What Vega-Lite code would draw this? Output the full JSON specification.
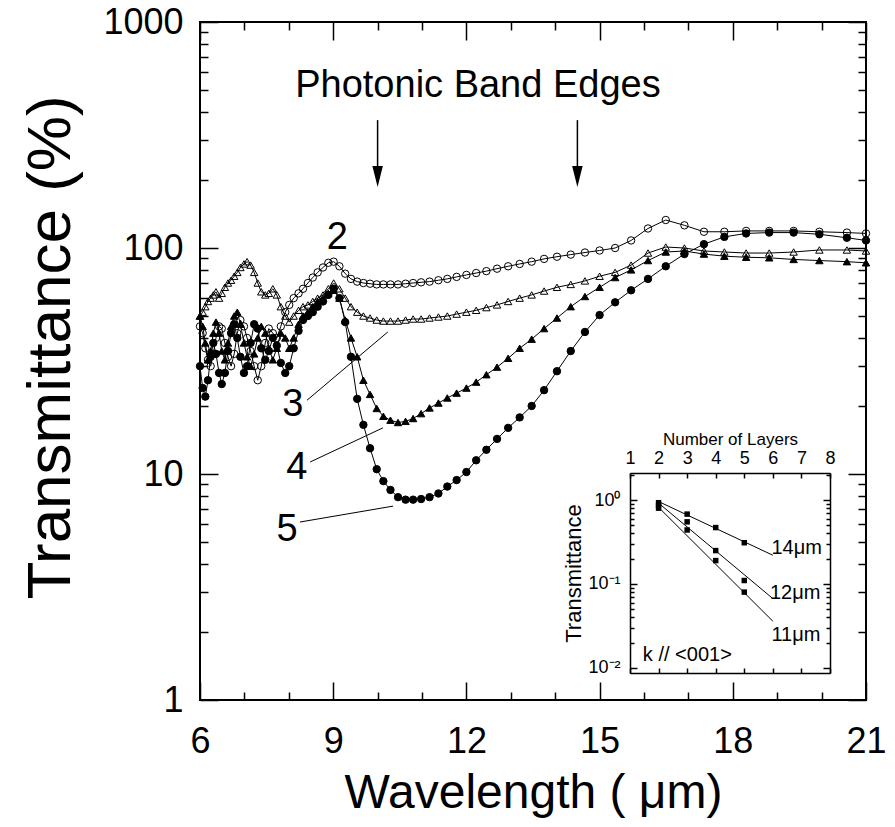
{
 "$schema": "https://vega.github.io/schema/vega-lite/v6.json",
 "width": 666, "height": 678,
 "autosize": {"type": "none"},
 "padding": {"left": 200, "top": 22, "right": 29, "bottom": 127},
 "background": "white",
 "config": {
  "view": {"stroke": "black", "strokeWidth": 2},
  "axis": {"domain": false, "grid": false, "tickColor": "black", "tickWidth": 1.5, "labelColor": "black", "titleColor": "black", "labelFont": "Liberation Sans", "titleFont": "Liberation Sans", "titleFontWeight": "normal", "labelFlush": false, "labelOverlap": false}
 },
 "datasets": {
  "main": [
{"l":6.00,"s":"2","v":45},{"l":6.06,"s":"2","v":42},{"l":6.12,"s":"2","v":36},{"l":6.18,"s":"2","v":32},{"l":6.24,"s":"2","v":30},{"l":6.30,"s":"2","v":34},{"l":6.36,"s":"2","v":40},{"l":6.43,"s":"2","v":45},{"l":6.49,"s":"2","v":44},{"l":6.56,"s":"2","v":38},{"l":6.63,"s":"2","v":33},{"l":6.70,"s":"2","v":30},{"l":6.77,"s":"2","v":34},{"l":6.84,"s":"2","v":42},{"l":6.91,"s":"2","v":48},{"l":6.99,"s":"2","v":45},{"l":7.06,"s":"2","v":40},{"l":7.14,"s":"2","v":35},{"l":7.22,"s":"2","v":30},{"l":7.30,"s":"2","v":26},{"l":7.38,"s":"2","v":30},{"l":7.47,"s":"2","v":38},{"l":7.55,"s":"2","v":44},{"l":7.64,"s":"2","v":42},{"l":7.73,"s":"2","v":40},{"l":7.82,"s":"2","v":45},{"l":7.92,"s":"2","v":52},{"l":8.01,"s":"2","v":56},{"l":8.11,"s":"2","v":60},{"l":8.22,"s":"2","v":63},{"l":8.32,"s":"2","v":66},{"l":8.43,"s":"2","v":70},{"l":8.54,"s":"2","v":74},{"l":8.65,"s":"2","v":78},{"l":8.77,"s":"2","v":82},{"l":8.89,"s":"2","v":86},{"l":9.01,"s":"2","v":87},{"l":9.14,"s":"2","v":83},{"l":9.27,"s":"2","v":77},{"l":9.40,"s":"2","v":73},{"l":9.54,"s":"2","v":71},{"l":9.68,"s":"2","v":70},{"l":9.83,"s":"2","v":69.5},{"l":9.98,"s":"2","v":69},{"l":10.13,"s":"2","v":69},{"l":10.29,"s":"2","v":69},{"l":10.46,"s":"2","v":69},{"l":10.63,"s":"2","v":69.5},{"l":10.80,"s":"2","v":70},{"l":10.98,"s":"2","v":70.5},{"l":11.17,"s":"2","v":71},{"l":11.37,"s":"2","v":72},{"l":11.57,"s":"2","v":73},{"l":11.78,"s":"2","v":74.5},{"l":12.00,"s":"2","v":76},{"l":12.22,"s":"2","v":77.5},{"l":12.45,"s":"2","v":79},{"l":12.69,"s":"2","v":81},{"l":12.94,"s":"2","v":83},{"l":13.20,"s":"2","v":85},{"l":13.47,"s":"2","v":87},{"l":13.75,"s":"2","v":89.5},{"l":14.04,"s":"2","v":91.5},{"l":14.35,"s":"2","v":93.5},{"l":14.67,"s":"2","v":95.5},{"l":15.00,"s":"2","v":97.5},{"l":15.35,"s":"2","v":100},{"l":15.71,"s":"2","v":108},{"l":16.09,"s":"2","v":122},{"l":16.49,"s":"2","v":133},{"l":16.91,"s":"2","v":126},{"l":17.35,"s":"2","v":118},{"l":17.81,"s":"2","v":118},{"l":18.30,"s":"2","v":119},{"l":18.82,"s":"2","v":119},{"l":19.37,"s":"2","v":119},{"l":19.95,"s":"2","v":118},{"l":20.57,"s":"2","v":117},{"l":21.00,"s":"2","v":116},
{"l":6.00,"s":"3","v":50},{"l":6.06,"s":"3","v":52},{"l":6.12,"s":"3","v":55},{"l":6.18,"s":"3","v":58},{"l":6.24,"s":"3","v":60},{"l":6.30,"s":"3","v":62},{"l":6.36,"s":"3","v":64},{"l":6.43,"s":"3","v":60},{"l":6.49,"s":"3","v":63},{"l":6.56,"s":"3","v":67},{"l":6.63,"s":"3","v":70},{"l":6.70,"s":"3","v":72},{"l":6.77,"s":"3","v":75},{"l":6.84,"s":"3","v":78},{"l":6.91,"s":"3","v":82},{"l":6.99,"s":"3","v":85},{"l":7.06,"s":"3","v":87},{"l":7.14,"s":"3","v":84},{"l":7.22,"s":"3","v":78},{"l":7.30,"s":"3","v":70},{"l":7.38,"s":"3","v":64},{"l":7.47,"s":"3","v":62},{"l":7.55,"s":"3","v":63},{"l":7.64,"s":"3","v":66},{"l":7.73,"s":"3","v":62},{"l":7.82,"s":"3","v":55},{"l":7.92,"s":"3","v":50},{"l":8.01,"s":"3","v":47},{"l":8.11,"s":"3","v":50},{"l":8.22,"s":"3","v":53},{"l":8.32,"s":"3","v":55},{"l":8.43,"s":"3","v":56},{"l":8.54,"s":"3","v":58},{"l":8.65,"s":"3","v":60},{"l":8.77,"s":"3","v":62},{"l":8.89,"s":"3","v":66},{"l":9.01,"s":"3","v":70},{"l":9.14,"s":"3","v":66},{"l":9.27,"s":"3","v":60},{"l":9.40,"s":"3","v":55},{"l":9.54,"s":"3","v":52},{"l":9.68,"s":"3","v":50},{"l":9.83,"s":"3","v":49},{"l":9.98,"s":"3","v":48},{"l":10.13,"s":"3","v":47.5},{"l":10.29,"s":"3","v":47.5},{"l":10.46,"s":"3","v":47.5},{"l":10.63,"s":"3","v":48},{"l":10.80,"s":"3","v":48.5},{"l":10.98,"s":"3","v":48.5},{"l":11.17,"s":"3","v":49},{"l":11.37,"s":"3","v":49.5},{"l":11.57,"s":"3","v":50},{"l":11.78,"s":"3","v":51},{"l":12.00,"s":"3","v":52},{"l":12.22,"s":"3","v":53},{"l":12.45,"s":"3","v":54.5},{"l":12.69,"s":"3","v":56},{"l":12.94,"s":"3","v":58},{"l":13.20,"s":"3","v":60},{"l":13.47,"s":"3","v":62},{"l":13.75,"s":"3","v":64.5},{"l":14.04,"s":"3","v":67},{"l":14.35,"s":"3","v":69},{"l":14.67,"s":"3","v":71.5},{"l":15.00,"s":"3","v":75},{"l":15.35,"s":"3","v":78},{"l":15.71,"s":"3","v":84},{"l":16.09,"s":"3","v":95},{"l":16.49,"s":"3","v":101},{"l":16.91,"s":"3","v":100},{"l":17.35,"s":"3","v":97},{"l":17.81,"s":"3","v":96},{"l":18.30,"s":"3","v":95},{"l":18.82,"s":"3","v":95},{"l":19.37,"s":"3","v":96},{"l":19.95,"s":"3","v":98},{"l":20.57,"s":"3","v":98},{"l":21.00,"s":"3","v":97},
{"l":6.00,"s":"4","v":50},{"l":6.06,"s":"4","v":45},{"l":6.12,"s":"4","v":38},{"l":6.18,"s":"4","v":32},{"l":6.24,"s":"4","v":35},{"l":6.30,"s":"4","v":42},{"l":6.36,"s":"4","v":47},{"l":6.43,"s":"4","v":42},{"l":6.49,"s":"4","v":35},{"l":6.56,"s":"4","v":32},{"l":6.63,"s":"4","v":38},{"l":6.70,"s":"4","v":45},{"l":6.77,"s":"4","v":50},{"l":6.84,"s":"4","v":52},{"l":6.91,"s":"4","v":46},{"l":6.99,"s":"4","v":38},{"l":7.06,"s":"4","v":33},{"l":7.14,"s":"4","v":30},{"l":7.22,"s":"4","v":34},{"l":7.30,"s":"4","v":40},{"l":7.38,"s":"4","v":45},{"l":7.47,"s":"4","v":42},{"l":7.55,"s":"4","v":36},{"l":7.64,"s":"4","v":32},{"l":7.73,"s":"4","v":36},{"l":7.82,"s":"4","v":42},{"l":7.92,"s":"4","v":40},{"l":8.01,"s":"4","v":36},{"l":8.11,"s":"4","v":40},{"l":8.22,"s":"4","v":46},{"l":8.32,"s":"4","v":50},{"l":8.43,"s":"4","v":52},{"l":8.54,"s":"4","v":55},{"l":8.65,"s":"4","v":58},{"l":8.77,"s":"4","v":60},{"l":8.89,"s":"4","v":63},{"l":9.01,"s":"4","v":65},{"l":9.14,"s":"4","v":60},{"l":9.27,"s":"4","v":48},{"l":9.40,"s":"4","v":40},{"l":9.54,"s":"4","v":33},{"l":9.68,"s":"4","v":26},{"l":9.83,"s":"4","v":22.5},{"l":9.98,"s":"4","v":19.5},{"l":10.13,"s":"4","v":18},{"l":10.29,"s":"4","v":17.3},{"l":10.46,"s":"4","v":16.9},{"l":10.63,"s":"4","v":17.1},{"l":10.80,"s":"4","v":17.6},{"l":10.98,"s":"4","v":18.5},{"l":11.17,"s":"4","v":19.6},{"l":11.37,"s":"4","v":20.6},{"l":11.57,"s":"4","v":21.7},{"l":11.78,"s":"4","v":22.8},{"l":12.00,"s":"4","v":24},{"l":12.22,"s":"4","v":25.5},{"l":12.45,"s":"4","v":27.5},{"l":12.69,"s":"4","v":29.7},{"l":12.94,"s":"4","v":32.5},{"l":13.20,"s":"4","v":36},{"l":13.47,"s":"4","v":39.5},{"l":13.75,"s":"4","v":44},{"l":14.04,"s":"4","v":49},{"l":14.35,"s":"4","v":55},{"l":14.67,"s":"4","v":61},{"l":15.00,"s":"4","v":67},{"l":15.35,"s":"4","v":74},{"l":15.71,"s":"4","v":80},{"l":16.09,"s":"4","v":88},{"l":16.49,"s":"4","v":96},{"l":16.91,"s":"4","v":97},{"l":17.35,"s":"4","v":94},{"l":17.81,"s":"4","v":92},{"l":18.30,"s":"4","v":91},{"l":18.82,"s":"4","v":90.5},{"l":19.37,"s":"4","v":89},{"l":19.95,"s":"4","v":88},{"l":20.57,"s":"4","v":87},{"l":21.00,"s":"4","v":86},
{"l":6.00,"s":"5","v":30},{"l":6.06,"s":"5","v":24},{"l":6.12,"s":"5","v":22},{"l":6.18,"s":"5","v":26},{"l":6.24,"s":"5","v":33},{"l":6.30,"s":"5","v":38},{"l":6.36,"s":"5","v":34},{"l":6.43,"s":"5","v":28},{"l":6.49,"s":"5","v":25},{"l":6.56,"s":"5","v":28},{"l":6.63,"s":"5","v":35},{"l":6.70,"s":"5","v":42},{"l":6.77,"s":"5","v":46},{"l":6.84,"s":"5","v":40},{"l":6.91,"s":"5","v":33},{"l":6.99,"s":"5","v":28},{"l":7.06,"s":"5","v":30},{"l":7.14,"s":"5","v":38},{"l":7.22,"s":"5","v":46},{"l":7.30,"s":"5","v":44},{"l":7.38,"s":"5","v":36},{"l":7.47,"s":"5","v":32},{"l":7.55,"s":"5","v":35},{"l":7.64,"s":"5","v":40},{"l":7.73,"s":"5","v":37},{"l":7.82,"s":"5","v":31},{"l":7.92,"s":"5","v":28},{"l":8.01,"s":"5","v":30},{"l":8.11,"s":"5","v":36},{"l":8.22,"s":"5","v":43},{"l":8.32,"s":"5","v":48},{"l":8.43,"s":"5","v":50},{"l":8.54,"s":"5","v":52},{"l":8.65,"s":"5","v":55},{"l":8.77,"s":"5","v":58},{"l":8.89,"s":"5","v":62},{"l":9.01,"s":"5","v":66},{"l":9.14,"s":"5","v":60},{"l":9.27,"s":"5","v":47},{"l":9.40,"s":"5","v":33},{"l":9.54,"s":"5","v":21.5},{"l":9.68,"s":"5","v":16.5},{"l":9.83,"s":"5","v":13},{"l":9.98,"s":"5","v":10.5},{"l":10.13,"s":"5","v":9.3},{"l":10.29,"s":"5","v":8.5},{"l":10.46,"s":"5","v":7.9},{"l":10.63,"s":"5","v":7.7},{"l":10.80,"s":"5","v":7.7},{"l":10.98,"s":"5","v":7.75},{"l":11.17,"s":"5","v":7.9},{"l":11.37,"s":"5","v":8.2},{"l":11.57,"s":"5","v":8.8},{"l":11.78,"s":"5","v":9.4},{"l":12.00,"s":"5","v":10.2},{"l":12.22,"s":"5","v":11.5},{"l":12.45,"s":"5","v":12.8},{"l":12.69,"s":"5","v":14.3},{"l":12.94,"s":"5","v":16},{"l":13.20,"s":"5","v":17.8},{"l":13.47,"s":"5","v":20},{"l":13.75,"s":"5","v":23.5},{"l":14.04,"s":"5","v":28.5},{"l":14.35,"s":"5","v":35},{"l":14.67,"s":"5","v":42.5},{"l":15.00,"s":"5","v":50.5},{"l":15.35,"s":"5","v":57.5},{"l":15.71,"s":"5","v":65},{"l":16.09,"s":"5","v":73},{"l":16.49,"s":"5","v":83},{"l":16.91,"s":"5","v":94},{"l":17.35,"s":"5","v":104},{"l":17.81,"s":"5","v":112},{"l":18.30,"s":"5","v":116},{"l":18.82,"s":"5","v":117},{"l":19.37,"s":"5","v":117},{"l":19.95,"s":"5","v":115},{"l":20.57,"s":"5","v":111},{"l":21.00,"s":"5","v":108}
  ],
  "labels": [
   {"l":9.09,"v":111,"t":"2"},{"l":8.09,"v":20.2,"t":"3"},{"l":8.18,"v":10.6,"t":"4"},{"l":7.96,"v":5.65,"t":"5"},{"l":12.26,"v":521,"t":"Photonic Band Edges"}
  ],
  "leaders": [
   {"l":8.41,"v":21.2,"l2":10.23,"v2":42.5},{"l":8.48,"v":11.3,"l2":10.12,"v2":16.0},{"l":8.25,"v":6.13,"l2":10.35,"v2":7.21}
  ],
  "arrows": [
   {"l":10.0,"v":368,"v2":200,"h":207},{"l":14.5,"v":368,"v2":200,"h":207}
  ],
  "ipts": [
   {"n":2,"w":"14","T":0.93},{"n":3,"w":"14","T":0.68},{"n":4,"w":"14","T":0.47},{"n":5,"w":"14","T":0.31},
   {"n":2,"w":"12","T":0.86},{"n":3,"w":"12","T":0.55},{"n":4,"w":"12","T":0.25},{"n":5,"w":"12","T":0.11},
   {"n":2,"w":"11","T":0.80},{"n":3,"w":"11","T":0.44},{"n":4,"w":"11","T":0.19},{"n":5,"w":"11","T":0.08}
  ],
  "ifit": [
   {"n":2,"w":"14","T":0.96},{"n":6,"w":"14","T":0.22},{"n":2,"w":"12","T":0.92},{"n":6,"w":"12","T":0.067},{"n":2,"w":"11","T":0.82},{"n":6,"w":"11","T":0.036}
  ],
  "itext": [
   {"n":5.95,"T":0.27,"t":"14μm"},{"n":5.9,"T":0.078,"t":"12μm"},{"n":5.95,"T":0.025,"t":"11μm"},{"n":1.45,"T":0.0143,"t":"k // <001>"}
  ]
 },
 "resolve": {"scale": {"x": "independent", "y": "independent"}},
 "layer": [
  {
   "resolve": {"axis": {"x": "independent", "y": "independent"}},
   "layer": [
    {
     "data": {"name": "main"},
     "mark": {"type": "line", "color": "black", "strokeWidth": 1},
     "encoding": {
      "x": {"field": "l", "type": "quantitative", "scale": {"domain": [6, 21], "nice": false, "zero": false},
       "axis": {"orient": "bottom", "values": [6,7,8,9,10,11,12,13,14,15,16,17,18,19,20,21],
        "tickSize": {"condition": {"test": "datum.value % 3 === 0", "value": -18}, "value": -8},
        "labelExpr": "datum.value % 3 === 0 ? format(datum.value, 'd') : ''",
        "labelFontSize": 36, "labelPadding": 42,
        "title": "Wavelength ( μm)", "titleFontSize": 48, "titlePadding": 0}},
      "y": {"field": "v", "type": "quantitative", "scale": {"type": "log", "domain": [1, 1000], "nice": false},
       "axis": {"orient": "left", "values": [1,2,3,4,5,6,7,8,9,10,20,30,40,50,60,70,80,90,100,200,300,400,500,600,700,800,900,1000],
        "tickSize": {"condition": {"test": "datum.value === 1 || datum.value === 10 || datum.value === 100 || datum.value === 1000", "value": -18}, "value": -8},
        "labelExpr": "(datum.value === 1 || datum.value === 10 || datum.value === 100 || datum.value === 1000) ? format(datum.value, 'd') : ''",
        "labelFontSize": 36, "labelPadding": 35,
        "title": "Transmittance (%)", "titleFontSize": 62, "titlePadding": 20, "titleY": 325}},
      "detail": {"field": "s"}
     }
    },
    {
     "data": {"name": "main"},
     "mark": {"type": "point", "stroke": "black", "strokeWidth": 1, "opacity": 1, "size": 55},
     "encoding": {
      "x": {"field": "l", "type": "quantitative", "scale": {"domain": [6, 21], "nice": false, "zero": false},
       "axis": {"orient": "top", "values": [6,7,8,9,10,11,12,13,14,15,16,17,18,19,20,21],
        "tickSize": {"condition": {"test": "datum.value % 3 === 0", "value": -18}, "value": -8},
        "labels": false, "title": null}},
      "y": {"field": "v", "type": "quantitative", "scale": {"type": "log", "domain": [1, 1000], "nice": false},
       "axis": {"orient": "right", "values": [1,2,3,4,5,6,7,8,9,10,20,30,40,50,60,70,80,90,100,200,300,400,500,600,700,800,900,1000],
        "tickSize": {"condition": {"test": "datum.value === 1 || datum.value === 10 || datum.value === 100 || datum.value === 1000", "value": -18}, "value": -8},
        "labels": false, "title": null}},
      "shape": {"field": "s", "type": "nominal", "scale": {"domain": ["2","3","4","5"], "range": ["circle","triangle-up","triangle-up","circle"]}, "legend": null},
      "fill": {"field": "s", "type": "nominal", "scale": {"domain": ["2","3","4","5"], "range": ["transparent","transparent","black","black"]}, "legend": null}
     }
    },
    {
     "data": {"name": "leaders"},
     "mark": {"type": "rule", "color": "black", "strokeWidth": 1},
     "encoding": {
      "x": {"field": "l", "type": "quantitative", "scale": {"domain": [6, 21], "nice": false, "zero": false}, "axis": null},
      "y": {"field": "v", "type": "quantitative", "scale": {"type": "log", "domain": [1, 1000], "nice": false}, "axis": null},
      "x2": {"field": "l2"}, "y2": {"field": "v2"}
     }
    },
    {
     "data": {"name": "arrows"},
     "mark": {"type": "rule", "color": "black", "strokeWidth": 1.5},
     "encoding": {
      "x": {"field": "l", "type": "quantitative", "scale": {"domain": [6, 21], "nice": false, "zero": false}, "axis": null},
      "y": {"field": "v", "type": "quantitative", "scale": {"type": "log", "domain": [1, 1000], "nice": false}, "axis": null},
      "y2": {"field": "v2"}
     }
    },
    {
     "data": {"name": "arrows"},
     "mark": {"type": "point", "shape": "M-0.5,-1L0.5,-1L0,1Z", "filled": true, "color": "black", "opacity": 1, "size": 441},
     "encoding": {
      "x": {"field": "l", "type": "quantitative", "scale": {"domain": [6, 21], "nice": false, "zero": false}, "axis": null},
      "y": {"field": "h", "type": "quantitative", "scale": {"type": "log", "domain": [1, 1000], "nice": false}, "axis": null}
     }
    },
    {
     "data": {"name": "labels"},
     "mark": {"type": "text", "font": "Liberation Sans", "fontSize": 38, "align": "center", "baseline": "middle", "color": "black"},
     "encoding": {
      "x": {"field": "l", "type": "quantitative", "scale": {"domain": [6, 21], "nice": false, "zero": false}, "axis": null},
      "y": {"field": "v", "type": "quantitative", "scale": {"type": "log", "domain": [1, 1000], "nice": false}, "axis": null},
      "text": {"field": "t"}
     }
    }
   ]
  },
  {
   "resolve": {"axis": {"x": "independent", "y": "independent"}},
   "layer": [
    {
     "data": {"name": "ifit"},
     "mark": {"type": "line", "color": "black", "strokeWidth": 1},
     "encoding": {
      "x": {"field": "n", "type": "quantitative", "scale": {"domain": [1, 8], "range": [430, 630], "nice": false, "zero": false},
       "axis": {"orient": "top", "offset": -451, "values": [1,2,3,4,5,6,7,8], "tickSize": -5,
        "labelFontSize": 18, "labelPadding": 11, "format": "d",
        "domain": true, "domainColor": "black", "domainWidth": 1.5,
        "title": "Number of Layers", "titleFontSize": 17, "titlePadding": 1}},
      "y": {"field": "T", "type": "quantitative", "scale": {"type": "log", "domain": [0.0087, 2.1], "range": [651, 451], "nice": false},
       "axis": {"orient": "left", "offset": -430, "values": [0.01,0.02,0.03,0.04,0.05,0.06,0.07,0.08,0.09,0.1,0.2,0.3,0.4,0.5,0.6,0.7,0.8,0.9,1,2],
        "tickSize": {"condition": {"test": "datum.value === 0.01 || datum.value === 0.1 || datum.value === 1", "value": -7}, "value": -4},
        "labelExpr": "datum.value === 1 ? '10⁰' : datum.value === 0.1 ? '10⁻¹' : datum.value === 0.01 ? '10⁻²' : ''",
        "labelFontSize": 18, "labelPadding": 17,
        "domain": true, "domainColor": "black", "domainWidth": 1.5,
        "title": "Transmittance", "titleFontSize": 22, "titlePadding": 2}},
      "detail": {"field": "w"}
     }
    },
    {
     "data": {"name": "ipts"},
     "mark": {"type": "point", "shape": "square", "filled": true, "color": "black", "opacity": 1, "size": 30},
     "encoding": {
      "x": {"field": "n", "type": "quantitative", "scale": {"domain": [1, 8], "range": [430, 630], "nice": false, "zero": false},
       "axis": {"orient": "bottom", "offset": -27, "values": [1,2,3,4,5,6,7,8], "tickSize": -5, "labels": false,
        "domain": true, "domainColor": "black", "domainWidth": 1.5, "title": null}},
      "y": {"field": "T", "type": "quantitative", "scale": {"type": "log", "domain": [0.0087, 2.1], "range": [651, 451], "nice": false},
       "axis": {"orient": "right", "offset": -36, "values": [0.01,0.02,0.03,0.04,0.05,0.06,0.07,0.08,0.09,0.1,0.2,0.3,0.4,0.5,0.6,0.7,0.8,0.9,1,2],
        "tickSize": {"condition": {"test": "datum.value === 0.01 || datum.value === 0.1 || datum.value === 1", "value": -7}, "value": -4},
        "labels": false, "domain": true, "domainColor": "black", "domainWidth": 1.5, "title": null}}
     }
    },
    {
     "data": {"name": "itext"},
     "mark": {"type": "text", "font": "Liberation Sans", "fontSize": 20, "align": "left", "baseline": "middle", "color": "black"},
     "encoding": {
      "x": {"field": "n", "type": "quantitative", "scale": {"domain": [1, 8], "range": [430, 630], "nice": false, "zero": false}, "axis": null},
      "y": {"field": "T", "type": "quantitative", "scale": {"type": "log", "domain": [0.0087, 2.1], "range": [651, 451], "nice": false}, "axis": null},
      "text": {"field": "t"}
     }
    }
   ]
  }
 ]
}
